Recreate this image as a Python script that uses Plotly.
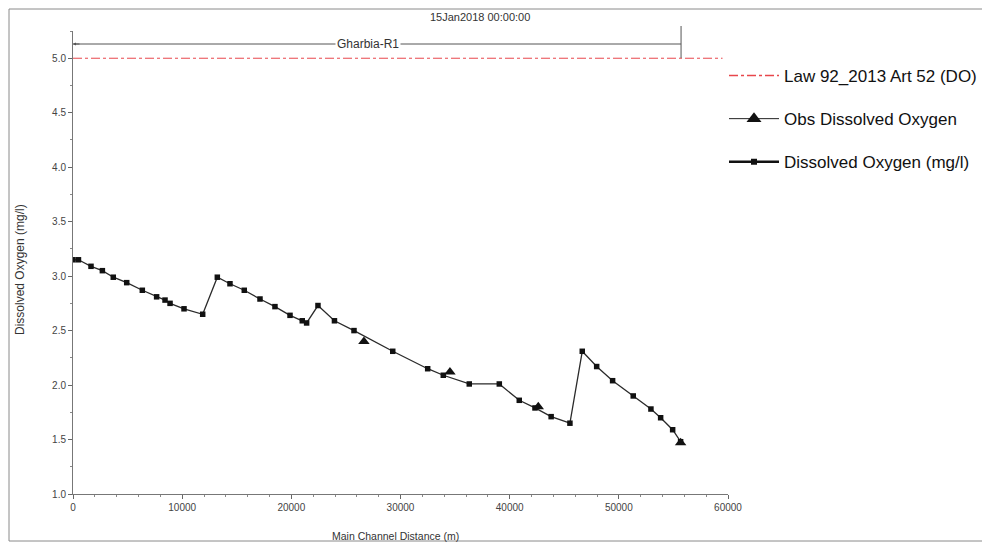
import plotly.graph_objects as go

# ---- data ----
sim_x = [0, 500, 1650, 2690, 3690, 4920, 6350, 7660, 8430, 8890, 10170, 11880,
         13220, 14380, 15690, 17130, 18500, 19880, 21000, 21400, 22440, 23950,
         25740, 29290, 32490, 33920, 36300, 39050, 40880, 42320, 43800, 45520,
         46650, 47970, 49430, 51320, 52940, 53830, 54930, 55660]
sim_y = [3.15, 3.15, 3.09, 3.05, 2.99, 2.94, 2.87, 2.81, 2.78, 2.75, 2.70, 2.65,
         2.99, 2.93, 2.87, 2.79, 2.72, 2.64, 2.59, 2.57, 2.73, 2.59,
         2.50, 2.31, 2.15, 2.09, 2.01, 2.01, 1.86, 1.79, 1.71, 1.65,
         2.31, 2.17, 2.04, 1.90, 1.78, 1.70, 1.59, 1.48]
obs_x = [26650, 34530, 42620, 55660]
obs_y = [2.40, 2.12, 1.80, 1.47]
law_x = [0, 59500]
law_y = [5.0, 5.0]
reach_start = 0
reach_end = 55700
reach_name = "Gharbia-R1"
time_label = "15Jan2018 00:00:00"
x_title = "Main Channel Distance (m)"
y_title = "Dissolved Oxygen (mg/l)"
names = ["Law 92_2013 Art 52 (DO)", "Obs Dissolved Oxygen", "Dissolved Oxygen (mg/l)"]
x_ticks = [0, 10000, 20000, 30000, 40000, 50000, 60000]
y_ticks = [1.0, 1.5, 2.0, 2.5, 3.0, 3.5, 4.0, 4.5, 5.0]

FONT = "Arial, Liberation Sans, sans-serif"
LEGFONT = "Liberation Sans Narrow, Arial Narrow, Liberation Sans, Arial, sans-serif"

# pixel helpers for paper coordinates (plot area in window: x 73..728, y 31..494)
def px(p):
    return (p - 73) / 655

def py(p):
    return (494 - p) / 463

fig = go.Figure()

fig.add_trace(go.Scatter(x=law_x, y=law_y, mode="lines",
                         line=dict(color="#e8474c", width=1, dash="dashdot"),
                         showlegend=False, hoverinfo="skip"))
fig.add_trace(go.Scatter(x=sim_x, y=sim_y, mode="lines+markers",
                         line=dict(color="#2a2a2a", width=1.3),
                         marker=dict(symbol="square", size=5.5, color="#111"),
                         showlegend=False))
fig.add_trace(go.Scatter(x=obs_x, y=obs_y, mode="markers",
                         marker=dict(symbol="triangle-up", size=10, color="#111"),
                         showlegend=False))

# legend entries
fig.add_trace(go.Scatter(x=[None], y=[None], mode="lines", name=names[0],
                         legendgroup="a",
                         line=dict(color="#e8474c", width=1.5, dash="dashdot")))
fig.add_trace(go.Scatter(x=[None], y=[None], mode="lines+markers", name=names[1],
                         legendgroup="b",
                         line=dict(color="#222", width=1),
                         marker=dict(symbol="triangle-up", size=13, color="#111")))
fig.add_trace(go.Scatter(x=[None], y=[None], mode="lines+markers", name=names[2],
                         legendgroup="c",
                         line=dict(color="#111", width=2.5),
                         marker=dict(symbol="square", size=6, color="#111")))

shapes = [
    dict(type="rect", xref="paper", yref="paper", x0=px(9), x1=px(988),
         y0=py(541), y1=py(9), line=dict(color="#8a8a8a", width=1), layer="below"),
    dict(type="line", xref="x", yref="paper", x0=reach_start, x1=reach_end,
         y0=py(44), y1=py(44), line=dict(color="#555", width=1)),
    dict(type="line", xref="x", yref="paper", x0=reach_end, x1=reach_end,
         y0=py(58), y1=py(26), line=dict(color="#555", width=1)),
]

annotations = [
    dict(x=px(368), y=py(44), xref="paper", yref="paper", text=reach_name,
         xanchor="center", yanchor="middle",
         showarrow=False, bgcolor="white",
         font=dict(size=12, color="#333", family=FONT)),
    dict(x=reach_start, y=py(44), xref="x", yref="paper", text="", showarrow=True,
         ax=8, ay=0, arrowhead=2, arrowsize=0.6, arrowwidth=1, arrowcolor="#555"),
    dict(x=px(480), y=py(17), xref="paper", yref="paper", text=time_label,
         xanchor="center", yanchor="middle",
         showarrow=False, font=dict(size=11, color="#333", family=FONT)),
    dict(x=px(395), y=py(536), xref="paper", yref="paper",
         xanchor="center", yanchor="middle",
         text=x_title, showarrow=False, font=dict(size=10.5, color="#333", family=FONT)),
    dict(x=px(20), y=py(270), xref="paper", yref="paper",
         xanchor="center", yanchor="middle",
         text=y_title, showarrow=False, textangle=-90,
         font=dict(size=12, color="#333", family=FONT)),
]

# the page body adds an 8px offset, so the figure is sized/margined to compensate
fig.update_layout(
    width=982, height=539,
    margin=dict(l=65, r=262, t=23, b=53, autoexpand=False),
    paper_bgcolor="white", plot_bgcolor="white",
    font=dict(family=FONT, size=10, color="#333"),
    shapes=shapes, annotations=annotations,
    legend=dict(x=px(724), y=py(58), xanchor="left", yanchor="top",
                font=dict(family=LEGFONT, size=17, color="#111"),
                traceorder="grouped", tracegroupgap=18, itemwidth=50,
                bgcolor="rgba(0,0,0,0)"),
    xaxis=dict(range=[0, 60000], tickvals=x_ticks, ticktext=[str(v) for v in x_ticks],
               ticks="outside", ticklen=4, tickcolor="#666", showline=True,
               linecolor="#777", linewidth=1, showgrid=False, zeroline=False,
               tickfont=dict(size=10, color="#444"),
               minor=dict(dtick=2000, ticks="outside", ticklen=2, tickcolor="#888")),
    yaxis=dict(range=[1.0, 5.25], tickvals=y_ticks, tickformat=".1f",
               ticks="outside", ticklen=4, tickcolor="#666", showline=True,
               linecolor="#777", linewidth=1, showgrid=False, zeroline=False,
               tickfont=dict(size=10, color="#444"),
               minor=dict(dtick=0.25, tick0=1.0, ticks="outside", ticklen=2, tickcolor="#888")),
)

fig.write_html("out.html")
